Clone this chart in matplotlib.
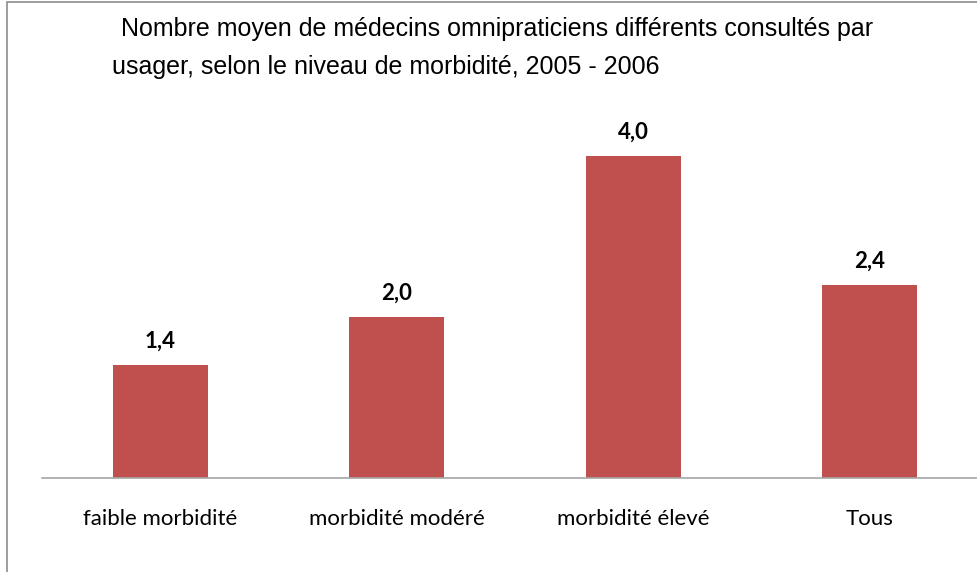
import matplotlib.pyplot as plt
from matplotlib.patches import Rectangle

categories = ['faible morbidité', 'morbidité modéré', 'morbidité élevé', 'Tous']
values = [1.4, 2.0, 4.0, 2.4]
value_labels = ['1,4', '2,0', '4,0', '2,4']

title_line1 = ' Nombre moyen de médecins omnipraticiens différents consultés par'
title_line2 = 'usager, selon le niveau de morbidité, 2005 - 2006'

W, H = 978, 572
fig = plt.figure(figsize=(W / 100, H / 100), dpi=100)

# outer frame (only left and top edges are visible)
fig.patches.append(Rectangle((7 / W, -0.1), 1.2, 1.1 - 2 / H, transform=fig.transFigure,
                             fill=False, edgecolor='#8c8c8c', linewidth=1.2))

ax = fig.add_axes([42 / W, 94 / H, 946 / W, 402 / H])
x = range(len(categories))
ax.bar(x, values, width=0.4, color='#C0504D')
ax.set_xlim(-0.5, len(categories) - 0.5)
ax.set_ylim(0, 5)

for i, (v, lab) in enumerate(zip(values, value_labels)):
    ax.text(i, v + 0.3, lab, ha='center', va='center', fontsize=16,
            fontweight='bold', family='Lato')

for s in ['top', 'right', 'left']:
    ax.spines[s].set_visible(False)
ax.spines['bottom'].set_color('#a6a6a6')
ax.spines['bottom'].set_linewidth(1.2)
ax.set_yticks([])
ax.set_xticks(list(x))
ax.set_xticklabels(categories, fontsize=16, family='Lato')
ax.tick_params(axis='x', length=0, pad=22)

fig.text(114 / W, 1 - 29 / H, title_line1, ha='left', va='center', fontsize=18,
         family='Liberation Sans')
fig.text(112 / W, 1 - 67 / H, title_line2, ha='left', va='center', fontsize=18,
         family='Liberation Sans')

fig.savefig('out.png', dpi=100)
